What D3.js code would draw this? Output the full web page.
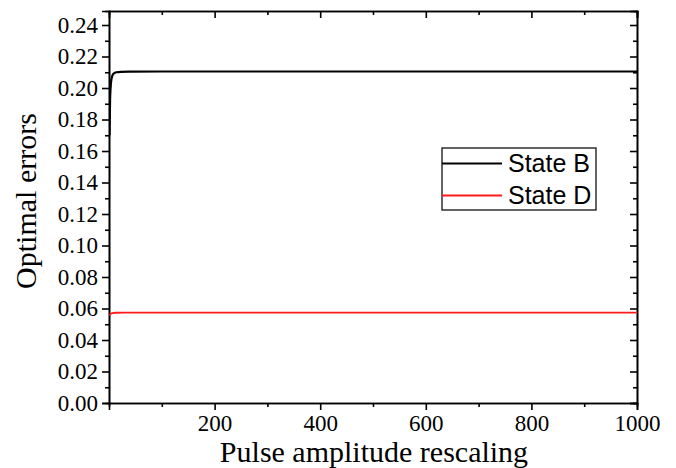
<!DOCTYPE html>
<html>
<head>
<meta charset="utf-8">
<script src="https://cdn.jsdelivr.net/npm/d3@7"></script>
<style>
  body { margin: 0; background: #fff; }
  svg { display: block; }
</style>
</head>
<body>
<div id="container"></div>
<script>
/* DATA */
const seriesNames = ["State B", "State D"]
const seriesColors = ["#000000", "#ff1a1a"]

// pulse amplitude rescaling (x) and optimal error (y)
const stateB_x = [1, 2, 3, 4, 6, 9, 14, 22, 40, 100, 400, 1000]
const stateB_y = [0.170, 0.192, 0.200, 0.204, 0.2075, 0.2092, 0.2100, 0.2103, 0.2104, 0.2105, 0.2105, 0.2105]
const stateD_x = [1, 2, 4, 7, 12, 30, 200, 1000]
const stateD_y = [0.0555, 0.0562, 0.0568, 0.0571, 0.0573, 0.0574, 0.0574, 0.0574]

const xMajor = [200, 400, 600, 800, 1000]
const xMinor = [100, 300, 500, 700, 900]
const yMajor = [0, 0.02, 0.04, 0.06, 0.08, 0.10, 0.12, 0.14, 0.16, 0.18, 0.20, 0.22, 0.24]
const yMinor = [0.01, 0.03, 0.05, 0.07, 0.09, 0.11, 0.13, 0.15, 0.17, 0.19, 0.21, 0.23]

/* CONSTANTS */
const width = 676,
  height = 468,
  margin = { top: 11, bottom: 65, left: 109, right: 39 }

const serif = "'Liberation Serif', 'Times New Roman', serif"
const sans = "'Liberation Sans', Arial, sans-serif"

const svg = d3.select("#container")
  .append("svg")
  .attr("width", width)
  .attr("height", height)

// SCALES
const xScale = d3.scaleLinear()
  .domain([0, 1000])
  .range([margin.left, width - margin.right])

const yScale = d3.scaleLinear()
  .domain([0, 0.2489])
  .range([height - margin.bottom, margin.top])

// AXES (major with labels, minor without)
const plotBottom = height - margin.bottom,
  plotLeft = margin.left,
  plotRight = width - margin.right,
  plotTop = margin.top

function styleAxis(g) {
  g.select(".domain").attr("stroke", "#000").attr("stroke-width", 1.6)
  g.selectAll(".tick line").attr("stroke", "#000").attr("stroke-width", 1.6)
  g.selectAll(".tick text")
    .attr("font-family", serif)
    .attr("font-size", 23)
    .attr("fill", "#000")
}

svg.append("g")
  .attr("transform", `translate(0, ${plotBottom})`)
  .call(d3.axisBottom(xScale).tickValues(xMajor).tickSize(7).tickPadding(5).tickFormat(d3.format("d")))
  .call(styleAxis)
svg.append("g")
  .attr("transform", `translate(0, ${plotBottom})`)
  .call(d3.axisBottom(xScale).tickValues(xMinor).tickSize(4).tickFormat(""))
  .call(styleAxis)

svg.append("g")
  .attr("transform", `translate(${plotLeft}, 0)`)
  .call(d3.axisLeft(yScale).tickValues(yMajor).tickSize(7).tickPadding(4).tickFormat(d3.format(".2f")))
  .call(styleAxis)
svg.append("g")
  .attr("transform", `translate(${plotLeft}, 0)`)
  .call(d3.axisLeft(yScale).tickValues(yMinor).tickSize(4).tickFormat(""))
  .call(styleAxis)

// right and top frame with inward ticks
svg.append("g")
  .attr("transform", `translate(${plotRight}, 0)`)
  .call(d3.axisLeft(yScale).tickValues(yMajor).tickSize(7).tickFormat(""))
  .call(styleAxis)
svg.append("g")
  .attr("transform", `translate(${plotRight}, 0)`)
  .call(d3.axisLeft(yScale).tickValues(yMinor).tickSize(4).tickFormat(""))
  .call(styleAxis)
svg.append("g")
  .attr("transform", `translate(0, ${plotTop})`)
  .call(d3.axisBottom(xScale).tickValues(xMajor).tickSize(7).tickFormat(""))
  .call(styleAxis)
svg.append("g")
  .attr("transform", `translate(0, ${plotTop})`)
  .call(d3.axisBottom(xScale).tickValues(xMinor).tickSize(4).tickFormat(""))
  .call(styleAxis)

// AXIS TITLES
svg.append("text")
  .attr("x", 374)
  .attr("y", 462)
  .attr("text-anchor", "middle")
  .attr("font-family", serif)
  .attr("font-size", 30)
  .text("Pulse amplitude rescaling")

svg.append("text")
  .attr("transform", "rotate(-90)")
  .attr("x", -201)
  .attr("y", 36)
  .attr("text-anchor", "middle")
  .attr("font-family", serif)
  .attr("font-size", 30)
  .text("Optimal errors")

// LINES
const lineGen = d3.line()
  .x(d => xScale(d[0]))
  .y(d => yScale(d[1]))
  .curve(d3.curveMonotoneX)

const series = [
  d3.zip(stateB_x, stateB_y),
  d3.zip(stateD_x, stateD_y)
]

svg.append("clipPath")
  .attr("id", "plotclip")
  .append("rect")
  .attr("x", plotLeft).attr("y", plotTop)
  .attr("width", plotRight - plotLeft).attr("height", plotBottom - plotTop)

svg.selectAll(".line")
  .data(series)
  .join("path")
  .attr("class", "line")
  .attr("clip-path", "url(#plotclip)")
  .attr("fill", "none")
  .attr("stroke", (d, i) => seriesColors[i])
  .attr("stroke-width", (d, i) => i === 0 ? 2.2 : 1.8)
  .attr("d", lineGen)

// LEGEND
const legend = svg.append("g")
  .attr("transform", "translate(442, 148)")

legend.append("rect")
  .attr("x", 0).attr("y", 0)
  .attr("width", 154).attr("height", 62)
  .attr("fill", "#fff")
  .attr("stroke", "#222")
  .attr("stroke-width", 1.4)

seriesNames.forEach((name, i) => {
  const yy = 15.5 + i * 32
  legend.append("line")
    .attr("x1", 0).attr("x2", 60)
    .attr("y1", yy).attr("y2", yy)
    .attr("stroke", seriesColors[i])
    .attr("stroke-width", i === 0 ? 2.2 : 1.8)
  legend.append("text")
    .attr("x", 66)
    .attr("y", yy + 8.5)
    .attr("font-family", sans)
    .attr("font-size", 25)
    .attr("fill", "#000")
    .text(name)
})
</script>
</body>
</html>
